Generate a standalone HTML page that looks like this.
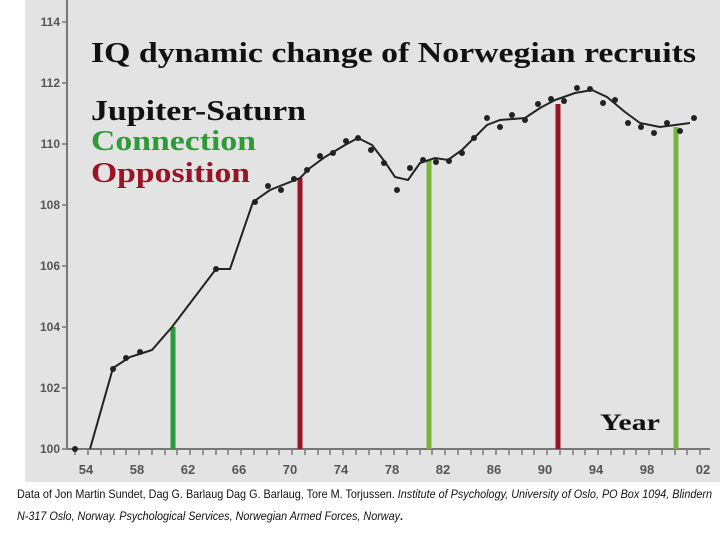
<!DOCTYPE html>
<html><head><meta charset="utf-8"><style>
body{margin:0;width:720px;height:540px;background:#fff;overflow:hidden;position:relative;font-family:"Liberation Sans",sans-serif}
</style></head><body>
<svg width="720" height="540" style="position:absolute;left:0;top:0">
<rect x="25" y="0" width="695" height="482" fill="#e3e3e3"/>
<g stroke="#777" stroke-width="2" fill="none">
<line x1="67" y1="0" x2="67" y2="449"/>
<line x1="67" y1="449" x2="710" y2="449"/>
</g>
<g stroke="#777" stroke-width="1.5">
<line x1="62" y1="22" x2="67" y2="22"/><line x1="62" y1="83" x2="67" y2="83"/><line x1="62" y1="144" x2="67" y2="144"/><line x1="62" y1="205" x2="67" y2="205"/><line x1="62" y1="266" x2="67" y2="266"/><line x1="62" y1="327" x2="67" y2="327"/><line x1="62" y1="388" x2="67" y2="388"/><line x1="62" y1="449" x2="67" y2="449"/>
<line x1="75" y1="449" x2="75" y2="455"/><line x1="88" y1="449" x2="88" y2="455"/><line x1="101" y1="449" x2="101" y2="455"/><line x1="114" y1="449" x2="114" y2="455"/><line x1="126" y1="449" x2="126" y2="455"/><line x1="139" y1="449" x2="139" y2="455"/><line x1="152" y1="449" x2="152" y2="455"/><line x1="165" y1="449" x2="165" y2="455"/><line x1="177" y1="449" x2="177" y2="455"/><line x1="190" y1="449" x2="190" y2="455"/><line x1="203" y1="449" x2="203" y2="455"/><line x1="216" y1="449" x2="216" y2="455"/><line x1="228" y1="449" x2="228" y2="455"/><line x1="241" y1="449" x2="241" y2="455"/><line x1="254" y1="449" x2="254" y2="455"/><line x1="267" y1="449" x2="267" y2="455"/><line x1="279" y1="449" x2="279" y2="455"/><line x1="292" y1="449" x2="292" y2="455"/><line x1="305" y1="449" x2="305" y2="455"/><line x1="318" y1="449" x2="318" y2="455"/><line x1="330" y1="449" x2="330" y2="455"/><line x1="343" y1="449" x2="343" y2="455"/><line x1="356" y1="449" x2="356" y2="455"/><line x1="369" y1="449" x2="369" y2="455"/><line x1="381" y1="449" x2="381" y2="455"/><line x1="394" y1="449" x2="394" y2="455"/><line x1="407" y1="449" x2="407" y2="455"/><line x1="420" y1="449" x2="420" y2="455"/><line x1="432" y1="449" x2="432" y2="455"/><line x1="445" y1="449" x2="445" y2="455"/><line x1="458" y1="449" x2="458" y2="455"/><line x1="471" y1="449" x2="471" y2="455"/><line x1="483" y1="449" x2="483" y2="455"/><line x1="496" y1="449" x2="496" y2="455"/><line x1="509" y1="449" x2="509" y2="455"/><line x1="522" y1="449" x2="522" y2="455"/><line x1="534" y1="449" x2="534" y2="455"/><line x1="547" y1="449" x2="547" y2="455"/><line x1="560" y1="449" x2="560" y2="455"/><line x1="573" y1="449" x2="573" y2="455"/><line x1="585" y1="449" x2="585" y2="455"/><line x1="598" y1="449" x2="598" y2="455"/><line x1="611" y1="449" x2="611" y2="455"/><line x1="624" y1="449" x2="624" y2="455"/><line x1="636" y1="449" x2="636" y2="455"/><line x1="649" y1="449" x2="649" y2="455"/><line x1="662" y1="449" x2="662" y2="455"/><line x1="675" y1="449" x2="675" y2="455"/><line x1="687" y1="449" x2="687" y2="455"/><line x1="700" y1="449" x2="700" y2="455"/>
</g>
<g font-family="Liberation Sans Narrow, Liberation Sans, sans-serif" font-size="12" font-weight="bold" fill="#555" text-anchor="end">
<text x="60" y="26">114</text><text x="60" y="87">112</text><text x="60" y="148">110</text><text x="60" y="209">108</text><text x="60" y="270">106</text><text x="60" y="331">104</text><text x="60" y="392">102</text><text x="60" y="453">100</text>
</g>
<g font-family="Liberation Sans Narrow, Liberation Sans, sans-serif" font-size="13" font-weight="bold" fill="#555" text-anchor="middle">
<text x="86" y="474">54</text><text x="137" y="474">58</text><text x="188" y="474">62</text><text x="239" y="474">66</text><text x="290" y="474">70</text><text x="341" y="474">74</text><text x="392" y="474">78</text><text x="443" y="474">82</text><text x="494" y="474">86</text><text x="545" y="474">90</text><text x="596" y="474">94</text><text x="647" y="474">98</text><text x="703" y="474">02</text>
</g>
<g stroke-width="5">
<line x1="173" y1="327" x2="173" y2="449" stroke="#2e9a3a"/>
<line x1="300" y1="178" x2="300" y2="449" stroke="#9a1428"/>
<line x1="429" y1="160" x2="429" y2="449" stroke="#7ab33a"/>
<line x1="558" y1="104" x2="558" y2="449" stroke="#9a1428"/>
<line x1="676" y1="127" x2="676" y2="449" stroke="#7ab33a"/>
</g>
<polyline fill="none" stroke="#222" stroke-width="2" points="90,449 113,368 130,357 152,350 172,327 216,269 230,269 253,202 270,190 300,178 310,168 325,157 345,145 358,138 372,145 385,162 395,177 408,180 420,163 435,158 448,160 462,150 478,134 487,125 500,120 525,118 540,108 555,100 575,93 592,90 607,97 625,112 640,123 660,127 690,123"/>
<g fill="#222">
<circle cx="75" cy="449" r="3"/><circle cx="113" cy="369" r="3"/><circle cx="126" cy="358" r="3"/><circle cx="140" cy="352" r="3"/><circle cx="216" cy="269" r="3"/><circle cx="255" cy="202" r="3"/><circle cx="268" cy="186" r="3"/><circle cx="281" cy="190" r="3"/><circle cx="294" cy="179" r="3"/><circle cx="307" cy="170" r="3"/><circle cx="320" cy="156" r="3"/><circle cx="333" cy="153" r="3"/><circle cx="346" cy="141" r="3"/><circle cx="358" cy="138" r="3"/><circle cx="371" cy="150" r="3"/><circle cx="384" cy="163" r="3"/><circle cx="397" cy="190" r="3"/><circle cx="410" cy="168" r="3"/><circle cx="423" cy="160" r="3"/><circle cx="436" cy="162" r="3"/><circle cx="449" cy="161" r="3"/><circle cx="462" cy="153" r="3"/><circle cx="474" cy="138" r="3"/><circle cx="487" cy="118" r="3"/><circle cx="500" cy="127" r="3"/><circle cx="512" cy="115" r="3"/><circle cx="525" cy="120" r="3"/><circle cx="538" cy="104" r="3"/><circle cx="551" cy="99" r="3"/><circle cx="564" cy="101" r="3"/><circle cx="577" cy="88" r="3"/><circle cx="590" cy="89" r="3"/><circle cx="603" cy="103" r="3"/><circle cx="615" cy="100" r="3"/><circle cx="628" cy="123" r="3"/><circle cx="641" cy="127" r="3"/><circle cx="654" cy="133" r="3"/><circle cx="667" cy="123" r="3"/><circle cx="680" cy="131" r="3"/><circle cx="694" cy="118" r="3"/>
</g>
<g font-family="Liberation Serif, serif" font-weight="bold">
<text x="91" y="62" font-size="29" fill="#111" textLength="605" lengthAdjust="spacingAndGlyphs">IQ dynamic change of Norwegian recruits</text>
<text x="91" y="120" font-size="29" fill="#111" textLength="215" lengthAdjust="spacingAndGlyphs">Jupiter-Saturn</text>
<text x="91" y="150" font-size="29" fill="#2e9a3a" textLength="165" lengthAdjust="spacingAndGlyphs">Connection</text>
<text x="91" y="182" font-size="29" fill="#9a1428" textLength="159" lengthAdjust="spacingAndGlyphs">Opposition</text>
<text x="600" y="430" font-size="23" fill="#111" textLength="60" lengthAdjust="spacingAndGlyphs">Year</text>
</g>
<g font-family="Liberation Sans Narrow, Liberation Sans, sans-serif" font-size="12" fill="#111">
<text x="17" y="498" textLength="695" lengthAdjust="spacingAndGlyphs">Data of Jon Martin Sundet, Dag G. Barlaug Dag G. Barlaug, Tore M. Torjussen.  <tspan font-style="italic">Institute of Psychology, University of Oslo, PO Box 1094, Blindern</tspan></text>
<text x="17" y="520" textLength="386" lengthAdjust="spacingAndGlyphs"><tspan font-style="italic">N-317 Oslo, Norway. Psychological Services, Norwegian Armed Forces, Norway</tspan><tspan font-weight="bold">.</tspan></text>
</g>
</svg>
</body></html>
